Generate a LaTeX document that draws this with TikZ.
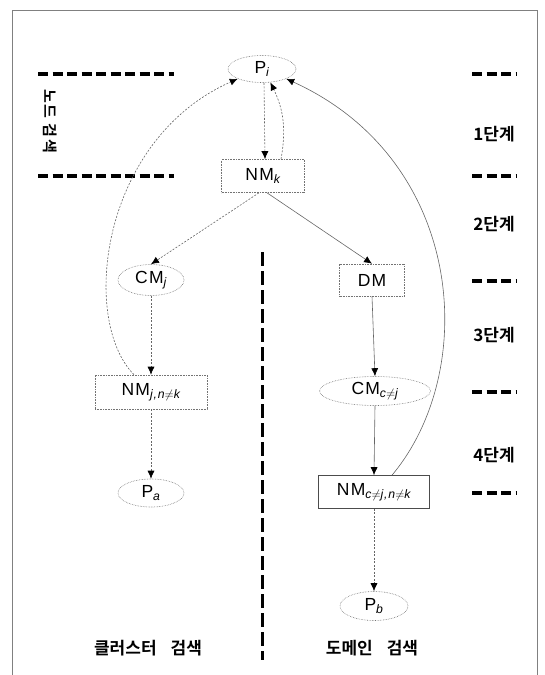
\documentclass[tikz,border=0pt]{standalone}
\usepackage{fontspec}
\setmainfont{Liberation Sans}[LetterSpace=7]
\newfontfamily\kr{Noto Sans CJK KR}[BoldFont={* Bold}]
\newfontfamily\krsp{Noto Sans CJK KR}[BoldFont={* Bold},LetterSpace=12]
\usetikzlibrary{arrows.meta,shapes.geometric}
\begin{document}
\begin{tikzpicture}[x=1pt,y=-1pt,
  every node/.style={inner sep=0pt},
  lbl/.style={font=\fontsize{17.5}{20}\selectfont},
  ell/.style={lbl,ellipse,draw=black!55,densely dotted,line width=0.6pt},
  box/.style={lbl,rectangle,draw=black!55,densely dotted,line width=0.6pt},
  arr/.style={draw=black!60,line width=0.6pt,-{Latex[length=8pt,width=7pt,color=black]}},
  dotarr/.style={arr,dash pattern=on 2pt off 1.5pt},
  stagedash/.style={line width=3.2pt,dash pattern=on 10pt off 4.5pt},
  stage/.style={font=\kr\bfseries\fontsize{17}{19}\selectfont},
  frame/.style={draw=black!50,line width=0.6pt}]
\useasboundingbox (0,0) rectangle (544,675);
% frame
\draw[frame] (12,675) -- (12,10) -- (537,10) -- (537,675);
% nodes
\node[ell,minimum width=68pt,minimum height=27pt] (Pi) at (262,69) {P\textsubscript{\itshape i}};
\node[box,minimum width=83pt,minimum height=33pt] (NMk) at (263,176) {NM\textsubscript{\itshape k}};
\node[ell,minimum width=66pt,minimum height=31pt] (CMj) at (151,280) {CM\textsubscript{\itshape j}};
\node[box,minimum width=65pt,minimum height=32pt] (DM) at (372,280) {DM};
\node[box,minimum width=112pt,minimum height=34pt] (NMj) at (151,392) {NM\textsubscript{\itshape j,n\ensuremath{\neq}k}};
\node[ell,minimum width=111pt,minimum height=29pt] (CMc) at (375,391) {CM\textsubscript{\itshape c\ensuremath{\neq}j}};
\node[ell,minimum width=66pt,minimum height=28pt] (Pa) at (151,493) {P\textsubscript{\itshape a}};
\node[box,draw=black!70,solid,minimum width=111pt,minimum height=33pt] (NMc) at (374,492) {NM\textsubscript{\itshape c\ensuremath{\neq}j,n\ensuremath{\neq}k}};
\node[ell,minimum width=68pt,minimum height=29pt] (Pb) at (374,606) {P\textsubscript{\itshape b}};
% stage labels
\node[stage] (s1) at (494,134) {1단계};
\node[stage] (s2) at (494,224) {2단계};
\node[stage] (s3) at (494,335) {3단계};
\node[stage] (s4) at (494,455) {4단계};
\node[stage,rotate=-90,font=\krsp\bfseries\fontsize{15}{17}\selectfont] (search) at (50,121) {노드 검색};
\node[stage] (cl) at (148,648) {클러스터\hspace{14pt}검색};
\node[stage] (dom) at (372,648) {도메인\hspace{14pt}검색};
% stage dashes
\foreach \yy in {74,176,281,392,493} \draw[stagedash] (472,\yy) -- (517,\yy);
\foreach \yy in {74,176} \draw[stagedash] (38,\yy) -- (174,\yy);
\draw[line width=3pt,dash pattern=on 14pt off 5pt] (262,252) -- (262,660);
% connectors
\draw[dotarr] ([xshift=2pt]Pi.south) -- ([xshift=2pt]NMk.north);
\draw[dotarr] ([xshift=18pt]NMk.north) to[bend right=18] (Pi.-58);
\draw[dotarr] ([xshift=-4pt]NMk.south) -- (CMj.north);
\draw[arr] ([xshift=4pt]NMk.south) -- (DM.north);
\draw[dotarr] (CMj.south) -- (NMj.north);
\draw[dotarr] (NMj.south) -- (Pa.north);
\draw[arr] (DM.south) -- (CMc.north);
\draw[arr] (CMc.south) -- (NMc.north);
\draw[dotarr] (NMc.south) -- (Pb.north);
\draw[dotarr] ([xshift=-17pt]NMj.north) .. controls (80,320) and (100,140) .. (Pi.-158);
\draw[arr] ([xshift=18pt]NMc.north) .. controls (480,370) and (465,160) .. (Pi.-22);
\end{tikzpicture}
\end{document}
